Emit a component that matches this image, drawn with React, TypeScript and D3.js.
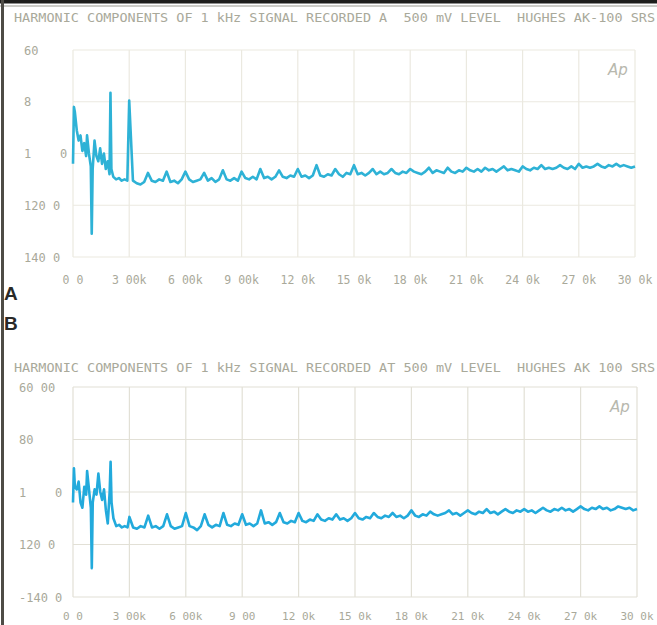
import React from 'react';
import * as d3 from 'd3';

// ---- data (kHz, dB) ----
const freqLow = [0, 0.05, 0.1, 0.2, 0.3, 0.4, 0.5, 0.6, 0.7, 0.75, 0.85, 0.95, 1.0, 1.05, 1.15, 1.25, 1.35, 1.45, 1.55, 1.65, 1.75, 1.85, 1.95, 2.0, 2.05, 2.15, 2.3, 2.45, 2.6, 2.75, 2.9];
const freqHigh = [
  3, 3.2, 3.4, 3.6, 3.8, 4, 4.2, 4.4, 4.6, 4.8, 5, 5.2, 5.4, 5.6, 5.8, 6, 6.2, 6.4, 6.6, 6.8,
  7, 7.2, 7.4, 7.6, 7.8, 8, 8.2, 8.4, 8.6, 8.8, 9, 9.2, 9.4, 9.6, 9.8, 10, 10.2, 10.4, 10.6, 10.8,
  11, 11.2, 11.4, 11.6, 11.8, 12, 12.2, 12.4, 12.6, 12.8, 13, 13.2, 13.4, 13.6, 13.8, 14, 14.2, 14.4, 14.6, 14.8,
  15, 15.2, 15.4, 15.6, 15.8, 16, 16.2, 16.4, 16.6, 16.8, 17, 17.2, 17.4, 17.6, 17.8, 18, 18.2, 18.4, 18.6, 18.8,
  19, 19.2, 19.4, 19.6, 19.8, 20, 20.2, 20.4, 20.6, 20.8, 21, 21.2, 21.4, 21.6, 21.8, 22, 22.2, 22.4, 22.6, 22.8,
  23, 23.2, 23.4, 23.6, 23.8, 24, 24.2, 24.4, 24.6, 24.8, 25, 25.2, 25.4, 25.6, 25.8, 26, 26.2, 26.4, 26.6, 26.8,
  27, 27.2, 27.4, 27.6, 27.8, 28, 28.2, 28.4, 28.6, 28.8, 29, 29.2, 29.4, 29.6, 29.8, 30,
];

const levelLowA = [-104, -82, -84, -91, -95, -93, -99, -96, -101, -93, -100, -105, -131, -106, -95, -101, -103, -98, -104, -100, -106, -103, -108, -76.5, -106, -109, -110, -109.5, -110.5, -110, -110.5];
const levelHighA = [
  -79.5, -110.5, -111.5, -112, -111,
  -107.5, -110.5, -111, -110, -110.5,
  -107, -111, -110.5, -111.5, -110,
  -107, -110, -111, -110.5, -110,
  -107.5, -110.5, -109.5, -111, -110,
  -106.5, -110, -110.5, -109.5, -110.5,
  -107, -109.5, -110, -109, -110,
  -106, -109.5, -109, -110, -109,
  -106.5, -109, -109.5, -108.5, -109,
  -106, -109, -108.5, -109.5, -108.5,
  -104.5, -108.5, -109, -108, -108.5,
  -106, -108, -109, -107.5, -108,
  -104.5, -108, -107.5, -108.5, -107.5,
  -106, -108, -107, -108, -107.5,
  -106, -107.5, -108, -107, -107.5,
  -106, -107, -107.5, -108, -107,
  -105.5, -107.5, -106.5, -107, -107.5,
  -105.5, -107, -107.5, -106.5, -107,
  -105.5, -106.5, -107, -106, -107,
  -105.5, -106.5, -106, -107, -106,
  -105, -106.5, -106, -106.5, -107,
  -105, -106, -106.5, -105.5, -106,
  -104.5, -106, -105.5, -106, -105.5,
  -104.5, -105.5, -106, -105, -106,
  -104, -105.5, -105, -105.5, -105,
  -104, -105, -105.5, -104.5, -105,
  -104, -105, -104.5, -105, -105.5,
  -105,
];

const levelLowB = [-104, -91, -98, -99, -96, -104, -106, -98, -101, -92, -99, -106, -129, -104, -99, -101, -93, -100, -103, -99, -107, -112, -100, -88.5, -104, -110, -113, -112.5, -113.5, -113, -113.5];
const levelHighB = [
  -109.5, -113.5, -114, -113, -113.5,
  -109, -113.5, -113, -114, -113,
  -108.5, -113, -114, -113.5, -113,
  -108, -113, -113.5, -114.5, -113,
  -108.5, -112.5, -113.5, -112.5, -113,
  -108, -112.5, -113, -112, -112.5,
  -108.5, -112.5, -112, -113, -112,
  -107, -112, -111.5, -112.5, -111.5,
  -108, -111.5, -112, -111, -111.5,
  -108, -111, -111.5, -110.5, -111,
  -108.5, -110.5, -111, -110, -110.5,
  -108.5, -110.5, -110, -111, -110,
  -108, -110, -110.5, -109.5, -110,
  -108, -109.5, -110, -109, -109.5,
  -108, -109.5, -109, -110, -109,
  -107, -109, -109.5, -108.5, -109,
  -107.5, -108.5, -109, -108.5, -108,
  -107, -108.5, -108, -109, -108,
  -107, -108, -108.5, -107.5, -108,
  -106.5, -108, -107.5, -108.5, -107.5,
  -106.5, -107.5, -108, -107, -107.5,
  -106.5, -107.5, -107, -108, -107,
  -106, -107, -107.5, -106.5, -107,
  -106, -107, -106.5, -107.5, -106.5,
  -105.5, -106.5, -107, -106, -106.5,
  -105.5, -106.5, -106, -107, -106.5,
  -105.5, -106, -106.5, -106, -107,
  -106.5,
];

const xTicks = [0, 3, 6, 9, 12, 15, 18, 21, 24, 27, 30];
const xLabelsA = ['0 0', '3 00k', '6 00k', '9 00k', '12 0k', '15 0k', '18 0k', '21 0k', '24 0k', '27 0k', '30 0k'];
const xLabelsB = ['0 0', '3 00k', '6 00k', '9 00', '12 0k', '15 0k', '18 0k', '21 0k', '24 0k', '27 0k', '30 0k'];
const yTicks = [-60, -80, -100, -120, -140];
const yLabelsA = ['60', '8', '1    0', '120 0', '140 0'];
const yLabelsB = ['60 00', '80', '1    0', '120 0', '-140 0'];
const titleA = 'HARMONIC COMPONENTS OF 1 kHz SIGNAL RECORDED A  500 mV LEVEL  HUGHES AK-100 SRS';
const titleB = 'HARMONIC COMPONENTS OF 1 kHz SIGNAL RECORDED AT 500 mV LEVEL  HUGHES AK 100 SRS';

const TXT = '#a9a99a';
const MONO = '"DejaVu Sans Mono", monospace';

type PanelProps = {
  title: string; titleY: number;
  x0: number; x1: number; y0: number; y1: number;
  yLabels: string[]; xLabels: string[]; labelX: number; xLabelY: number; xLabelSize: number;
  low: number[]; high: number[];
  grid: string; trace: string;
};

function Panel(p: PanelProps) {
  const x = d3.scaleLinear().domain([0, 30]).range([p.x0, p.x1]);
  const y = d3.scaleLinear().domain([-60, -140]).range([p.y0, p.y1]);
  const pts: [number, number][] = [
    ...freqLow.map((f, i) => [f, p.low[i]] as [number, number]),
    ...freqHigh.map((f, i) => [f, p.high[i]] as [number, number]),
  ];
  const line = d3.line<[number, number]>().x(d => x(d[0])).y(d => y(d[1]));
  return (
    <g>
      <text x={14} y={p.titleY} fontFamily={MONO} fontSize={11.5} fill={TXT}
        textLength={641} lengthAdjust="spacingAndGlyphs" style={{ whiteSpace: 'pre' }}>{p.title}</text>
      {xTicks.map(t => (
        <line key={'gx' + t} x1={x(t)} x2={x(t)} y1={p.y0} y2={p.y1} stroke={p.grid} strokeWidth={1.2} />
      ))}
      {yTicks.map(t => (
        <line key={'gy' + t} x1={p.x0} x2={p.x1} y1={y(t)} y2={y(t)} stroke={p.grid} strokeWidth={1.2} />
      ))}
      {yTicks.map((t, i) => (
        <text key={'yl' + t} x={p.labelX} y={y(t) + 4.5} fontFamily={MONO} fontSize={12}
          fill={TXT} style={{ whiteSpace: 'pre' }}>{p.yLabels[i]}</text>
      ))}
      {xTicks.map((t, i) => (
        <text key={'xl' + t} x={x(t)} y={p.xLabelY} textAnchor="middle" fontFamily={MONO} fontSize={p.xLabelSize}
          fill={TXT} style={{ whiteSpace: 'pre' }}>{p.xLabels[i]}</text>
      ))}
      <text x={p.x1 - 27} y={p.y0 + 25} fontFamily="'DejaVu Sans', sans-serif" fontStyle="italic"
        fontSize={15} fill="#b8b8ae">Ap</text>
      <path d={line(pts) ?? ''} fill="none" stroke={p.trace} strokeWidth={2.6} strokeLinejoin="round" />
    </g>
  );
}

export default function App() {
  return (
    <svg width={657} height={625} style={{ position: 'absolute', left: 0, top: 0, background: '#fff' }}>
      <rect x={0} y={0} width={657} height={625} fill="#fff" />
      <rect x={0} y={0} width={657} height={3.5} fill="#1e1e1c" />
      <line x1={0} x2={657} y1={6} y2={6} stroke="#9a9a90" strokeWidth={1} />
      <line x1={2.5} x2={2.5} y1={0} y2={625} stroke="#4e4c46" strokeWidth={3} />
      <Panel title={titleA} titleY={22} x0={73} x1={635} y0={50} y1={257}
        yLabels={yLabelsA} xLabels={xLabelsA} labelX={24} xLabelY={284} xLabelSize={11.5}
        low={levelLowA} high={levelHighA} grid="#ebe9e0" trace="#2eb2d6" />
      <Panel title={titleB} titleY={372} x0={73} x1={637} y0={387} y1={597}
        yLabels={yLabelsB} xLabels={xLabelsB} labelX={19} xLabelY={620} xLabelSize={11}
        low={levelLowB} high={levelHighB} grid="#e2e0d6" trace="#22aadc" />
      <text x={4} y={300} fontFamily="'Liberation Sans', Arial, sans-serif" fontWeight="bold"
        fontSize={19} fill="#2a2a28">A</text>
      <text x={4} y={330} fontFamily="'Liberation Sans', Arial, sans-serif" fontWeight="bold"
        fontSize={19} fill="#2a2a28">B</text>
    </svg>
  );
}
